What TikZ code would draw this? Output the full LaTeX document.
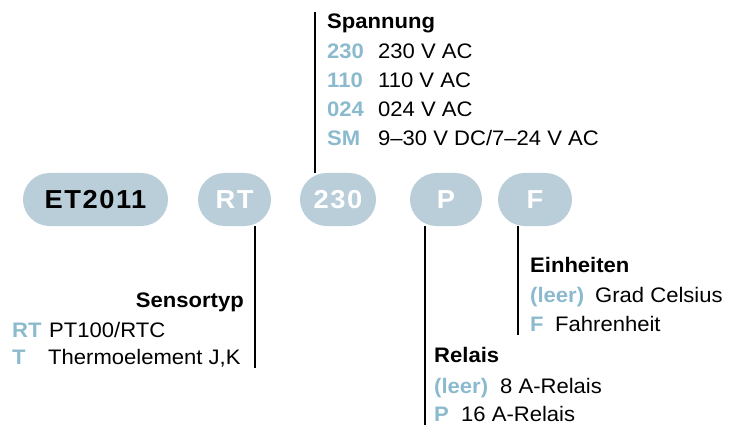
\documentclass[tikz,border=0pt]{standalone}
\usepackage{fontspec}
\setmainfont{Liberation Sans}[FakeStretch=1.05]
\newfontfamily\pillfont{Liberation Sans}[FakeStretch=1.05, LetterSpace=6]
\definecolor{pillc}{RGB}{186,206,217}
\definecolor{codec}{RGB}{139,186,206}
\tikzset{
  pill/.style={fill=pillc, rounded corners=26.5pt, minimum height=53pt, inner sep=0pt,
    font=\pillfont\fontsize{26}{30}\selectfont\bfseries, text=white},
  lbl/.style={anchor=base west, inner sep=0pt, font=\fontsize{21}{25}\selectfont},
  head/.style={lbl, font=\fontsize{21}{25}\selectfont\bfseries},
  code/.style={lbl, font=\fontsize{21}{25}\selectfont\bfseries, text=codec},
  bar/.style={line width=2.6pt}
}
\begin{document}
\begin{tikzpicture}[x=1pt,y=-1pt]
\useasboundingbox (0,0) rectangle (742,425);
% pills
\node[pill, minimum width=145pt, text=black] (et) at (95.5,199.5) {ET2011};
\node[pill, minimum width=73pt] (rt) at (234.5,199.5) {RT};
\node[pill, minimum width=76pt] (v) at (338,199.5) {230};
\node[pill, minimum width=72pt] (p) at (446,199.5) {P};
\node[pill, minimum width=74pt] (f) at (535,199.5) {F};
% connectors
\coordinate (vtop) at (315,12);
\coordinate (rtend) at (255,368);
\coordinate (pend) at (425,425);
\coordinate (fend) at (518,335);
\draw[bar] (vtop) -- (vtop |- v.north);
\draw[bar] (rtend |- rt.south) -- (rtend);
\draw[bar] (pend |- p.south) -- (pend);
\draw[bar] (fend |- f.south) -- (fend);
% Spannung
\node[head] (sph) at (327,28.5) {Spannung};
\node[code] (c230) at (327,59) {230};
\node[lbl] (d230) at (378,59) {230 V AC};
\node[code] (c110) at (327,88) {110};
\node[lbl] (d110) at (378,88) {110 V AC};
\node[code] (c024) at (327,117) {024};
\node[lbl] (d024) at (378,117) {024 V AC};
\node[code] (csm) at (327,145.5) {SM};
\node[lbl] (dsm) at (378,145.5) {9–30 V DC/7–24 V AC};
% Sensortyp
\node[head, anchor=base east] (sth) at (244,307) {Sensortyp};
\node[code] (crt) at (12,337) {RT};
\node[lbl] (drt) at (49,337) {PT100/RTC};
\node[code] (ct) at (12,364.5) {T};
\node[lbl] (dt) at (48,364.5) {Thermoelement J,K};
% Einheiten
\node[head] (eh) at (530,272) {Einheiten};
\node[code] (cel) at (530,302.5) {(leer)};
\node[lbl] (del) at (595,302.5) {Grad Celsius};
\node[code] (cf) at (530,331.5) {F};
\node[lbl] (df) at (555,331.5) {Fahrenheit};
% Relais
\node[head] (rh) at (434,362) {Relais};
\node[code] (crl) at (434,393.5) {(leer)};
\node[lbl] (drl) at (500,393.5) {8 A-Relais};
\node[code] (cp) at (434,421) {P};
\node[lbl] (dp) at (461,421) {16 A-Relais};
\end{tikzpicture}
\end{document}
